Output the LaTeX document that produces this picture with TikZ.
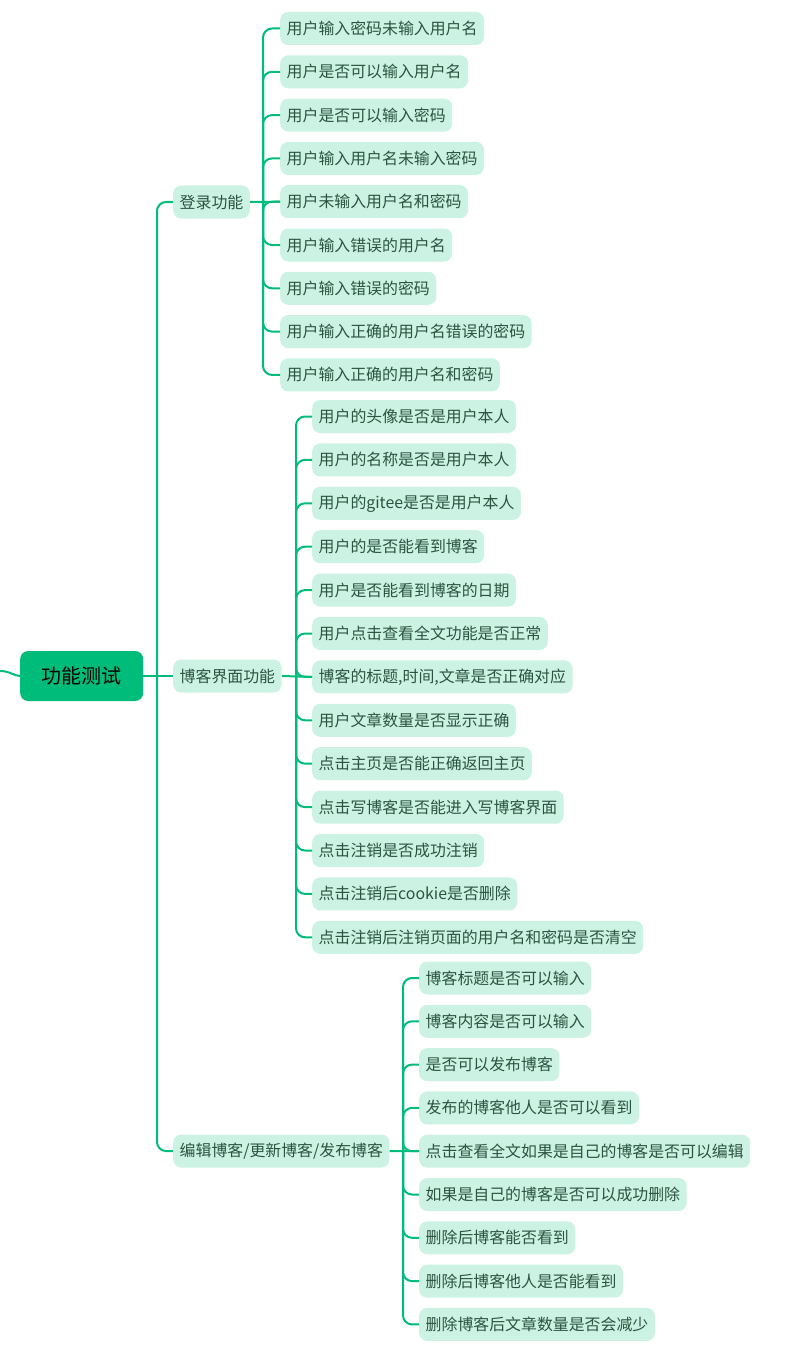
\documentclass[tikz,border=0pt]{standalone}
\usepackage{fontspec}
\setmainfont{Noto Sans CJK SC}
\definecolor{lineg}{HTML}{00BC7B}
\definecolor{leaffill}{HTML}{CCF2E3}
\definecolor{leaftext}{HTML}{2A5440}
\tikzset{
  leaf/.style={fill=leaffill, rounded corners=8pt, text=leaftext, anchor=west,
    inner xsep=6.5pt, inner ysep=0pt, minimum height=33pt,
    font=\fontsize{15.9}{18}\selectfont},
  rootbox/.style={fill=lineg, rounded corners=8pt, text=black, anchor=west,
    minimum width=123pt, minimum height=50pt, inner sep=0pt,
    font=\fontsize{20}{24}\selectfont},
  conn/.style={draw=lineg, line width=2pt, rounded corners=9pt},
}
\begin{document}
\begin{tikzpicture}[x=1pt,y=-1pt]
\useasboundingbox (0,0) rectangle (792,1351);
% root
\node[rootbox] (root) at (20,676) {功能测试};
\coordinate (hidden) at (0,671);
\draw[conn] (hidden) .. controls (10,671) and (14,676) .. (root.west);
% level 1
\node[leaf] (login) at (173,202) {登录功能};
\node[leaf] (blog) at (173,676) {博客界面功能};
\node[leaf] (edit) at (173,1151) {编辑博客/更新博客/发布博客};
\coordinate (trunk) at (157,676);
\draw[conn] (root.east) -- (blog.west);
\draw[conn] (trunk) |- (login.west);
\draw[conn] (trunk) |- (edit.west);
% login children
\foreach \t [count=\i] in {用户输入密码未输入用户名,用户是否可以输入用户名,用户是否可以输入密码,用户输入用户名未输入密码,用户未输入用户名和密码,用户输入错误的用户名,用户输入错误的密码,用户输入正确的用户名错误的密码,用户输入正确的用户名和密码}{
  \node[leaf] (l\i) at (280,{28.5+(\i-1)*43.3}) {\t};
}
\coordinate (lv) at (263,202);
\draw[conn] (login.east) -- (l5.west);
\foreach \i in {1,...,9}{ \draw[conn] (lv) |- (l\i.west); }
% blog children
\foreach \t [count=\i] in {用户的头像是否是用户本人,用户的名称是否是用户本人,用户的gitee是否是用户本人,用户的是否能看到博客,用户是否能看到博客的日期,用户点击查看全文功能是否正常,{博客的标题,时间,文章是否正确对应},用户文章数量是否显示正确,点击主页是否能正确返回主页,点击写博客是否能进入写博客界面,点击注销是否成功注销,点击注销后cookie是否删除,点击注销后注销页面的用户名和密码是否清空}{
  \node[leaf] (b\i) at (312,{416.5+(\i-1)*43.4}) {\t};
}
\coordinate (bv) at (296,676);
\draw[conn] (blog.east) -- (b7.west);
\foreach \i in {1,...,13}{ \draw[conn] (bv) |- (b\i.west); }
% edit children
\foreach \t [count=\i] in {博客标题是否可以输入,博客内容是否可以输入,是否可以发布博客,发布的博客他人是否可以看到,点击查看全文如果是自己的博客是否可以编辑,如果是自己的博客是否可以成功删除,删除后博客能否看到,删除后博客他人是否能看到,删除博客后文章数量是否会减少}{
  \node[leaf] (e\i) at (419,{978+(\i-1)*43.3}) {\t};
}
\coordinate (ev) at (403,1151);
\draw[conn] (edit.east) -- (e5.west);
\foreach \i in {1,...,9}{ \draw[conn] (ev) |- (e\i.west); }
\end{tikzpicture}
\end{document}
